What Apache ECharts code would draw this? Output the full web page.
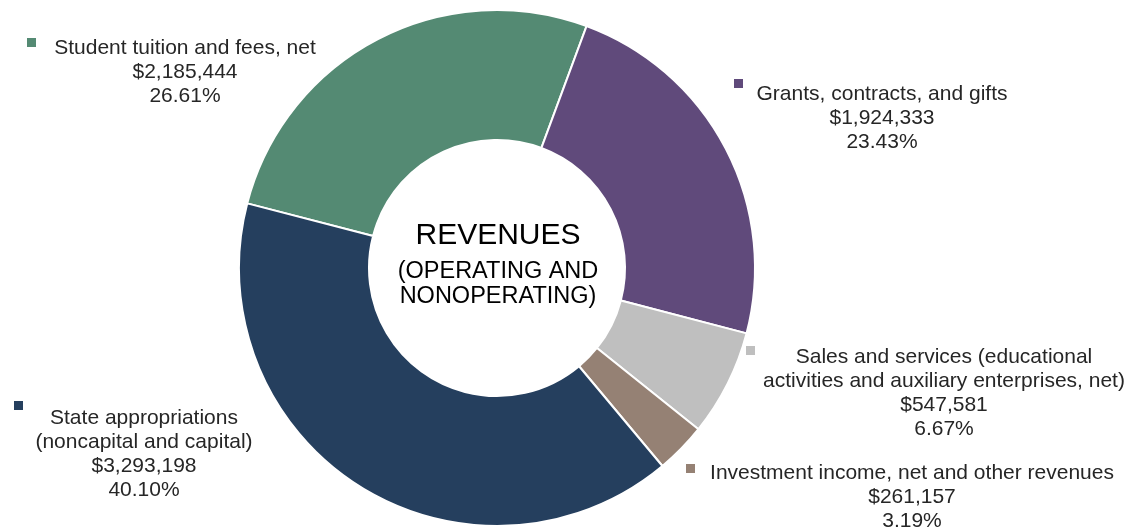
<!DOCTYPE html>
<html>
<head>
<meta charset="utf-8">
<script src="https://cdn.jsdelivr.net/npm/echarts@6/dist/echarts.min.js"></script>
<style>
  html, body { margin: 0; padding: 0; background: #ffffff; }
  #chart { width: 1145px; height: 529px; }
</style>
</head>
<body>
<div id="chart"></div>
<script>
// ---- Data ----
const categories = [
  'Student tuition and fees, net',
  'Grants, contracts, and gifts',
  'Sales and services (educational\nactivities and auxiliary enterprises, net)',
  'Investment income, net and other revenues',
  'State appropriations\n(noncapital and capital)'
];
const values = [2185444, 1924333, 547581, 261157, 3293198];
const percentLabels = ['26.61%', '23.43%', '6.67%', '3.19%', '40.10%'];
const colors = ['#548a73', '#604a7b', '#bfbfbf', '#958174', '#253f5e'];

const centerTitle = 'REVENUES';
const centerSubtitle = '(OPERATING AND\nNONOPERATING)';

// ---- Layout (label anchor points and marker positions) ----
const labelAnchors = [
  [185, 36], [882, 82], [944, 345], [912, 461], [144, 406]
];
const markerPos = [
  [25, 36], [732, 77], [744, 344], [684, 462], [12, 399]
];

const chart = echarts.init(document.getElementById('chart'), null, { renderer: 'canvas' });

const pieData = categories.map((c, i) => ({
  name: c,
  value: values[i],
  itemStyle: { color: colors[i] }
}));

const legends = categories.map((c, i) => ({
  data: [{ name: c, icon: 'rect' }],
  left: markerPos[i][0],
  top: markerPos[i][1],
  padding: 0,
  itemGap: 0,
  itemWidth: 11,
  itemHeight: 11,
  selectedMode: false,
  formatter: () => '',
  textStyle: { fontSize: 1 }
}));

chart.setOption({
  animation: false,
  backgroundColor: '#ffffff',
  legend: legends,
  graphic: [
    {
      type: 'text',
      x: 498, y: 236,
      style: {
        text: centerTitle,
        align: 'center', verticalAlign: 'middle',
        fontFamily: 'Liberation Sans, Arial, sans-serif',
        fontSize: 30, fill: '#000000'
      }
    },
    {
      type: 'text',
      x: 498, y: 284,
      style: {
        text: centerSubtitle,
        align: 'center', verticalAlign: 'middle',
        fontFamily: 'Liberation Sans, Arial, sans-serif',
        fontSize: 23.5, lineHeight: 25, fill: '#000000'
      }
    }
  ],
  series: [{
    type: 'pie',
    center: [497, 268],
    radius: [128, 258],
    startAngle: 165.5,
    clockwise: true,
    avoidLabelOverlap: false,
    emphasis: { disabled: true },
    itemStyle: { borderColor: '#ffffff', borderWidth: 2 },
    label: {
      show: true,
      position: 'outside',
      fontFamily: 'Liberation Sans, Arial, sans-serif',
      fontSize: 21,
      lineHeight: 24,
      color: '#262626',
      formatter: p => p.name + '\n$' + p.value.toLocaleString('en-US') + '\n' + percentLabels[p.dataIndex]
    },
    labelLine: { show: false },
    labelLayout: p => ({
      x: labelAnchors[p.dataIndex][0],
      y: labelAnchors[p.dataIndex][1],
      align: 'center',
      verticalAlign: 'top'
    }),
    data: pieData
  }]
});
</script>
</body>
</html>
